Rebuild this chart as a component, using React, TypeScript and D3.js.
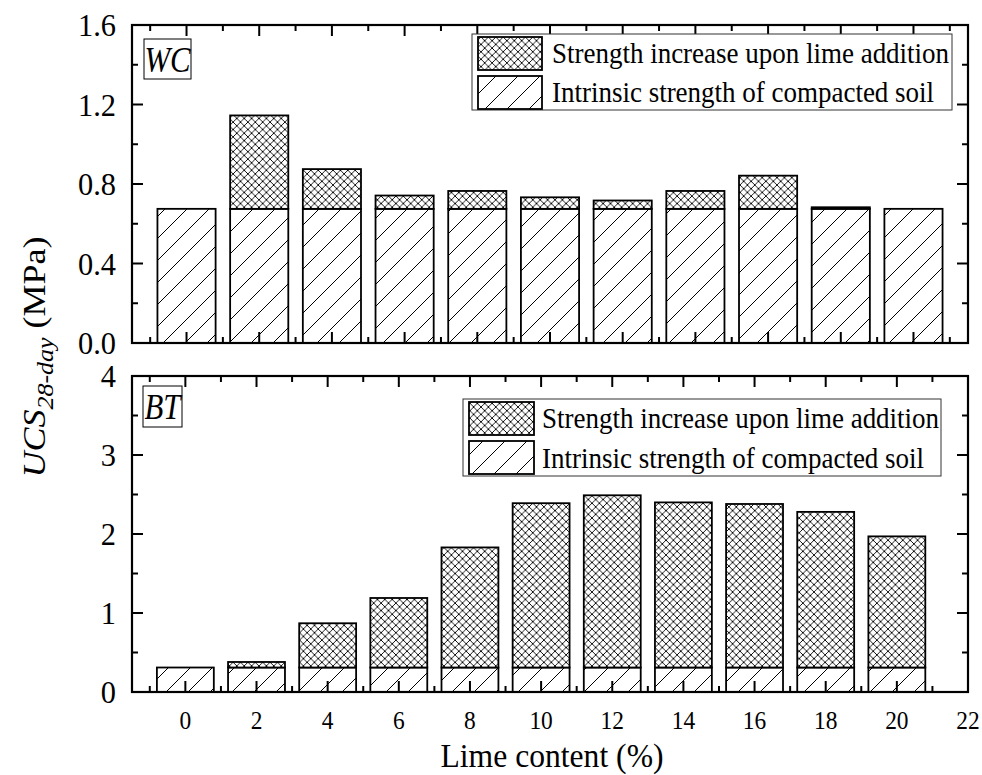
import React from "react";
import * as d3 from "d3";

// Lime content (%) for each bar
const limeContent = [0, 2, 4, 6, 8, 10, 12, 14, 16, 18, 20];

// WC soil: intrinsic strength of compacted soil and strength gained from lime (MPa)
const wcIntrinsic = [0.675, 0.675, 0.675, 0.675, 0.675, 0.675, 0.675, 0.675, 0.675, 0.675, 0.675];
const wcIncrease = [0, 0.47, 0.2, 0.067, 0.09, 0.058, 0.042, 0.09, 0.167, 0.008, 0];

// BT soil: intrinsic strength of compacted soil and strength gained from lime (MPa)
const btIntrinsic = [0.31, 0.31, 0.31, 0.31, 0.31, 0.31, 0.31, 0.31, 0.31, 0.31, 0.31];
const btIncrease = [0, 0.07, 0.56, 0.88, 1.52, 2.08, 2.18, 2.09, 2.07, 1.97, 1.66];

// Axis ticks
const wcYTicks = [0, 0.4, 0.8, 1.2, 1.6];
const wcYMinor = [0.2, 0.6, 1.0, 1.4];
const btYTicks = [0, 1, 2, 3, 4];
const btYMinor = [0.5, 1.5, 2.5, 3.5];
const xMajorTicks = [0, 2, 4, 6, 8, 10, 12, 14, 16, 18, 20, 22];
const xMinorTicks = [-1, 1, 3, 5, 7, 9, 11, 13, 15, 17, 19, 21];

const legendLabels = ["Strength increase upon lime addition", "Intrinsic strength of compacted soil"];

const FONT = "'Liberation Serif', 'Times New Roman', serif";

const W = 982;
const H = 775;
const L = 132;
const R = 968;
const BAR_W = 1.6;

type STextProps = {
  x: number;
  y: number;
  size: number;
  sx?: number;
  anchor?: "start" | "middle" | "end";
  italic?: boolean;
  children: React.ReactNode;
};

// Text with slightly narrowed glyphs
function SText({ x, y, size, sx = 0.9, anchor = "start", italic = false, children }: STextProps) {
  return (
    <g transform={`translate(${x},${y}) scale(${sx},1)`}>
      <text
        x={0}
        y={0}
        fontFamily={FONT}
        fontSize={size}
        fontStyle={italic ? "italic" : "normal"}
        textAnchor={anchor}
        fill="#000"
      >
        {children}
      </text>
    </g>
  );
}

type PanelProps = {
  x: d3.ScaleLinear<number, number>;
  y: d3.ScaleLinear<number, number>;
  intrinsic: number[];
  increase: number[];
  yTicks: number[];
  yMinor: number[];
  fmt: (v: number) => string;
  tag: string;
  tagBox: { x: number; y: number; w: number; h: number; baseline: number };
  legend: { x: number; y: number; w: number; h: number; sw: number; sh: number; gap: number; textX: number; b1: number; b2: number };
  showX: boolean;
};

function Panel({ x, y, intrinsic, increase, yTicks, yMinor, fmt, tag, tagBox, legend, showX }: PanelProps) {
  const [top, bottom] = [y.range()[1], y.range()[0]];
  const [x0, x1] = x.domain();
  const bw = x(BAR_W) - x(0);
  const majors = xMajorTicks.filter((t) => t >= x0 && t <= x1);
  const minors = xMinorTicks.filter((t) => t >= x0 && t <= x1);
  const MAJ = 11;
  const MIN = 6;
  return (
    <g>
      {/* stacked bars */}
      {limeContent.map((c, i) => {
        const bx = x(c) - bw / 2;
        const base = intrinsic[i];
        const inc = increase[i];
        return (
          <g key={c}>
            <rect x={bx} y={y(base)} width={bw} height={y(0) - y(base)} fill="url(#hatch)" stroke="#000" strokeWidth={1.8} />
            {inc > 0 && (
              <rect x={bx} y={y(base + inc)} width={bw} height={y(base) - y(base + inc)} fill="url(#cross)" stroke="#000" strokeWidth={1.8} />
            )}
          </g>
        );
      })}
      {/* frame */}
      <rect x={L} y={top} width={R - L} height={bottom - top} fill="none" stroke="#000" strokeWidth={2.2} />
      {/* x ticks, inward on bottom and top */}
      {majors.map((t) => (
        <g key={`M${t}`} stroke="#000" strokeWidth={2}>
          <line x1={x(t)} x2={x(t)} y1={bottom} y2={bottom - MAJ} />
          <line x1={x(t)} x2={x(t)} y1={top} y2={top + MAJ} />
        </g>
      ))}
      {minors.map((t) => (
        <g key={`m${t}`} stroke="#000" strokeWidth={2}>
          <line x1={x(t)} x2={x(t)} y1={bottom} y2={bottom - MIN} />
          <line x1={x(t)} x2={x(t)} y1={top} y2={top + MIN} />
        </g>
      ))}
      {/* y ticks, inward on left and right */}
      {yTicks.map((t) => (
        <g key={`Y${t}`} stroke="#000" strokeWidth={2}>
          <line x1={L} x2={L + MAJ} y1={y(t)} y2={y(t)} />
          <line x1={R} x2={R - MAJ} y1={y(t)} y2={y(t)} />
        </g>
      ))}
      {yMinor.map((t) => (
        <g key={`y${t}`} stroke="#000" strokeWidth={2}>
          <line x1={L} x2={L + MIN} y1={y(t)} y2={y(t)} />
          <line x1={R} x2={R - MIN} y1={y(t)} y2={y(t)} />
        </g>
      ))}
      {/* y tick labels */}
      {yTicks.map((t) => (
        <SText key={`yl${t}`} x={116} y={y(t) + 11} size={32} sx={0.95} anchor="end">
          {fmt(t)}
        </SText>
      ))}
      {/* x tick labels */}
      {showX &&
        majors.map((t) => (
          <SText key={`xl${t}`} x={x(t)} y={729} size={26} anchor="middle">
            {String(t)}
          </SText>
        ))}
      {/* panel tag */}
      <rect x={tagBox.x} y={tagBox.y} width={tagBox.w} height={tagBox.h} fill="#fff" stroke="#000" strokeWidth={1} />
      <SText x={tagBox.x + tagBox.w / 2} y={tagBox.baseline} size={35} sx={0.88} anchor="middle" italic>
        {tag}
      </SText>
      {/* legend */}
      <rect x={legend.x} y={legend.y} width={legend.w} height={legend.h} fill="#fff" stroke="#333" strokeWidth={1} />
      <rect x={legend.x + 6} y={legend.y + 3} width={legend.sw} height={legend.sh} fill="url(#cross)" stroke="#000" strokeWidth={1.8} />
      <rect x={legend.x + 6} y={legend.y + 3 + legend.sh + legend.gap} width={legend.sw} height={legend.sh} fill="url(#hatch)" stroke="#000" strokeWidth={1.8} />
      <SText x={legend.textX} y={legend.b1} size={30}>
        {legendLabels[0]}
      </SText>
      <SText x={legend.textX} y={legend.b2} size={30}>
        {legendLabels[1]}
      </SText>
    </g>
  );
}

export default function App() {
  const xTop = d3.scaleLinear().domain([-1.5, 21.5]).range([L, R]);
  const xBot = d3.scaleLinear().domain([-1.5, 22]).range([L, R]);
  const yTop = d3.scaleLinear().domain([0, 1.6]).range([343, 25]);
  const yBot = d3.scaleLinear().domain([0, 4]).range([692, 376]);
  const f1 = d3.format(".1f");
  const f0 = d3.format("d");
  const hs = 22; // single hatch spacing
  const cs = 7.4; // cross hatch spacing

  return (
    <svg width={W} height={H} style={{ position: "absolute", left: 0, top: 0, background: "#fff" }}>
      <defs>
        <pattern id="hatch" patternUnits="userSpaceOnUse" width={hs} height={hs}>
          <rect width={hs} height={hs} fill="#fff" />
          <path
            d={`M0,${hs} L${hs},0 M-2,2 L2,-2 M${hs - 2},${hs + 2} L${hs + 2},${hs - 2}`}
            stroke="#000"
            strokeWidth={1}
          />
        </pattern>
        <pattern id="cross" patternUnits="userSpaceOnUse" width={cs} height={cs}>
          <rect width={cs} height={cs} fill="#fff" />
          <path
            d={`M0,${cs} L${cs},0 M-1,1 L1,-1 M${cs - 1},${cs + 1} L${cs + 1},${cs - 1} M0,0 L${cs},${cs} M-1,${cs - 1} L1,${cs + 1} M${cs - 1},-1 L${cs + 1},1`}
            stroke="#000"
            strokeWidth={0.9}
          />
        </pattern>
      </defs>
      <rect width={W} height={H} fill="#fff" />
      <Panel
        x={xTop}
        y={yTop}
        intrinsic={wcIntrinsic}
        increase={wcIncrease}
        yTicks={wcYTicks}
        yMinor={wcYMinor}
        fmt={f1}
        tag="WC"
        tagBox={{ x: 144, y: 39, w: 47, h: 40, baseline: 72 }}
        legend={{ x: 472, y: 34, w: 480, h: 76, sw: 64, sh: 33, gap: 6, textX: 552, b1: 63, b2: 102 }}
        showX={false}
      />
      <Panel
        x={xBot}
        y={yBot}
        intrinsic={btIntrinsic}
        increase={btIncrease}
        yTicks={btYTicks}
        yMinor={btYMinor}
        fmt={f0}
        tag="BT"
        tagBox={{ x: 143, y: 386, w: 39, h: 41, baseline: 419 }}
        legend={{ x: 463, y: 399, w: 478, h: 77, sw: 65, sh: 33, gap: 6, textX: 542, b1: 428, b2: 468 }}
        showX={true}
      />
      {/* x axis title */}
      <SText x={552} y={767} size={34} sx={0.93} anchor="middle">
        Lime content (%)
      </SText>
      {/* y axis title */}
      <g transform="translate(45,357) rotate(-90) scale(1,0.9)">
        <text x={0} y={0} fontFamily={FONT} fontSize={36} textAnchor="middle" fill="#000">
          <tspan fontStyle="italic">UCS</tspan>
          <tspan fontStyle="italic" fontSize={26} dy={9}>
            28-day
          </tspan>
          <tspan dy={-9}> (MPa)</tspan>
        </text>
      </g>
    </svg>
  );
}
